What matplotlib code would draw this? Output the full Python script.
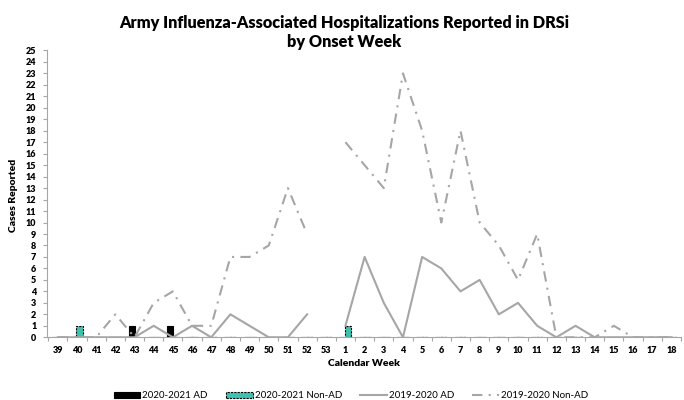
import numpy as np
import matplotlib
matplotlib.use("Agg")
import matplotlib.pyplot as plt

plt.rcParams['font.family'] = ['Lato', 'DejaVu Sans']

weeks = [str(w) for w in range(39, 54)] + [str(w) for w in range(1, 19)]

# 2020-2021 season bars (only weeks with cases)
ad_2021 = {'43': 1, '45': 1}
nonad_2021 = {'40': 1, '1': 1}

# 2019-2020 season lines (no week 53 that season)
nan = np.nan
ad_1920 = [0, 0, 0, 0, 0, 1, 0, 1, 0, 2, 1, 0, 0, 2, nan,
           1, 7, 3, 0, 7, 6, 4, 5, 2, 3, 1, 0, 1, 0, 0, 0, 0, 0]
nonad_1920 = [0, 0, 0, 2, 0, 3, 4, 1, 1, 7, 7, 8, 13, 9, nan,
              17, 15, 13, 23, 18, 10, 18, 10, 8, 5, 9, 0, 0, 0, 1, 0, 0, 0]

gray = '#A6A6A6'
teal = '#3FC1B0'

fig = plt.figure(figsize=(6.84, 4.00), dpi=100)
ax = fig.add_axes([0.0694, 0.1568, 0.9262, 0.7172])

x = np.arange(len(weeks))
ad_vals = [ad_2021.get(w, 0) for w in weeks]
nonad_vals = [nonad_2021.get(w, 0) for w in weeks]
bw = 0.34
b1 = ax.bar(x - 0.14, ad_vals, width=bw, color='black', edgecolor='black',
            linewidth=0.8, label='2020-2021 AD', zorder=2)
b2 = ax.bar(x + 0.14, nonad_vals, width=bw, color=teal, edgecolor='black',
            linewidth=0.8, linestyle=(0, (2, 1)), label='2020-2021 Non-AD', zorder=2)

l1, = ax.plot(x, ad_1920, color=gray, lw=1.5, label='2019-2020 AD', zorder=3)
l2, = ax.plot(x, nonad_1920, color=gray, lw=1.5, linestyle=(0, (5, 3, 1, 3)),
              label='2019-2020 Non-AD', zorder=3)

ax.set_xlim(-0.54, 32.26)
ax.set_ylim(0, 25)
ax.set_yticks(range(0, 26))
ax.set_xticks(x)
ax.set_xticklabels(weeks)
ax.set_xticks(np.arange(-0.5, 33, 1), minor=True)

for sp in ['top', 'right']:
    ax.spines[sp].set_visible(False)
for sp in ['left', 'bottom']:
    ax.spines[sp].set_color('#A6A6A6')
    ax.spines[sp].set_linewidth(0.8)

ax.tick_params(axis='x', which='major', length=0, pad=6, labelsize=6.5)
ax.tick_params(axis='x', which='minor', length=3, color='#A6A6A6', width=0.8)
ax.tick_params(axis='y', length=3, color='#A6A6A6', width=0.8, pad=5, labelsize=6.5)
for lab in ax.get_xticklabels() + ax.get_yticklabels():
    lab.set_fontweight('heavy')

ax.set_xlabel('Calendar Week', fontsize=7.5, fontweight='heavy', labelpad=3)
fig.text(14 / 684, 1 - 195 / 400, 'Cases Reported', rotation=90,
         fontsize=7.5, fontweight='heavy', ha='center', va='center')

fig.text(0.503, 1 - 23 / 400, 'Army Influenza-Associated Hospitalizations Reported in DRSi',
         fontsize=11.7, fontweight='heavy', ha='center', va='center')
fig.text(0.503, 1 - 42 / 400, 'by Onset Week',
         fontsize=11.7, fontweight='heavy', ha='center', va='center')

fig.legend([b1, b2, l1, l2], ['2020-2021 AD', '2020-2021 Non-AD', '2019-2020 AD', '2019-2020 Non-AD'],
           loc='center', bbox_to_anchor=(351 / 684, 1 - 396 / 400), ncol=4,
           frameon=False, fontsize=7, handlelength=2.7, handleheight=0.5,
           handletextpad=0.2, columnspacing=1.9)

fig.savefig('out.png', dpi=100)
